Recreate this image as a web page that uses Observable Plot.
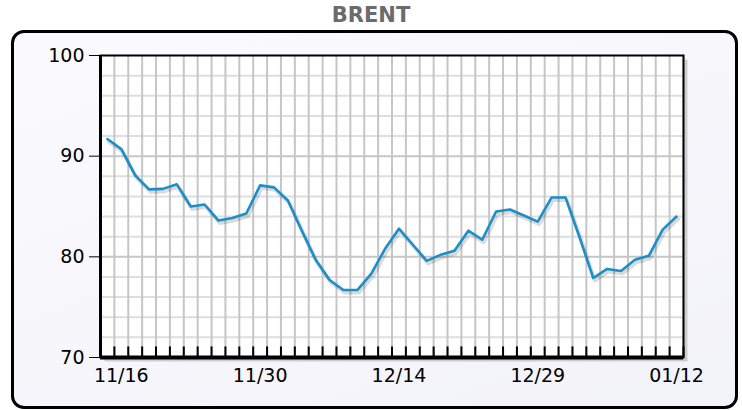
<!DOCTYPE html>
<html>
<head>
<meta charset="utf-8">
<script src="https://cdn.jsdelivr.net/npm/d3@7"></script>
<script src="https://cdn.jsdelivr.net/npm/@observablehq/plot@0.6"></script>
<style>
  html, body { margin: 0; padding: 0; background: #ffffff; }
  body { width: 742px; height: 410px; position: relative; overflow: hidden; }
  #title { position: absolute; left: 0; top: 3px; width: 742px; text-align: center;
    font-family: "DejaVu Sans", sans-serif; font-weight: bold; font-size: 21px; color: #6b6b6b; }
  #panel { position: absolute; left: 11px; top: 30px; width: 721px; height: 373px;
    border: 3px solid #000; border-radius: 13px;
    background: linear-gradient(160deg, #fbfbfe 0%, #f2f2f9 100%); }
  #chart { position: absolute; left: 0; top: 0; }
</style>
</head>
<body>
<div id="title">BRENT</div>
<div id="panel"></div>
<div id="chart"></div>
<script>
const dates = [
  "11/15","11/16","11/17","11/18","11/21","11/22","11/23","11/24","11/25","11/28","11/29","11/30",
  "12/01","12/02","12/05","12/06","12/07","12/08","12/09","12/12","12/13","12/14",
  "12/15","12/16","12/19","12/20","12/21","12/22","12/23","12/27","12/28","12/29",
  "12/30","01/02","01/03","01/04","01/05","01/06","01/09","01/10","01/11","01/12"
];
const values = [
  91.7, 90.7, 88.1, 86.7, 86.75, 87.2, 85.0, 85.2, 83.6, 83.85, 84.3, 87.1,
  86.9, 85.6, 82.6, 79.7, 77.7, 76.7, 76.7, 78.3, 80.8, 82.8,
  81.2, 79.6, 80.2, 80.6, 82.6, 81.7, 84.5, 84.7, 84.1, 83.5,
  85.9, 85.9, 82.0, 77.9, 78.8, 78.6, 79.7, 80.1, 82.7, 84.0
];
const yTicks = [70, 80, 90, 100];
const xTickLabels = ["11/16", "11/30", "12/14", "12/29", "01/12"];

const data = dates.map((d, i) => ({i, date: d, value: values[i]}));
const xTicks = xTickLabels.map(l => dates.indexOf(l));
const edges = d3.range(dates.length + 1).map(i => i - 0.5);
const yMinor = d3.range(yTicks[0], yTicks[yTicks.length - 1], 2).filter(v => v % 10 !== 0);
const yMajor = yTicks.slice(1, -1);

const chart = Plot.plot({
  width: 742,
  height: 410,
  marginLeft: 100,
  marginRight: 59,
  marginTop: 55,
  marginBottom: 53,
  style: {background: "transparent", fontFamily: "DejaVu Sans, sans-serif", fontSize: "19px", color: "#000"},
  x: {domain: [-0.5, dates.length - 0.5], ticks: xTicks, tickFormat: i => dates[i], tickSize: 0, tickPadding: 11, label: null},
  y: {domain: [70, 100], ticks: yTicks, tickSize: 11, tickPadding: 5, label: null},
  marks: [
    Plot.frame({fill: "#000", fillOpacity: 0.16, dx: 4, dy: 4}),
    Plot.frame({fill: "white"}),
    Plot.ruleY(yMinor, {stroke: "#dedede", strokeWidth: 2}),
    Plot.ruleY(yMajor, {stroke: "#c6c6c6", strokeWidth: 2}),
    Plot.ruleX(edges, {stroke: "#c6c6c6", strokeWidth: 2}),
    Plot.ruleX(edges, {y1: 70, y2: 71.05, stroke: "#000", strokeWidth: 2}),
    Plot.line(data, {x: "i", y: "value", stroke: "#000", strokeOpacity: 0.14, strokeWidth: 4, dx: 1.5, dy: 2.5}),
    Plot.line(data, {x: "i", y: "value", stroke: "#1b8fc7", strokeWidth: 2.6}),
    Plot.frame({stroke: "#000", strokeWidth: 2}),
    Plot.ruleY([70], {stroke: "#000", strokeWidth: 4}),
    Plot.ruleX([-0.5], {stroke: "#000", strokeWidth: 3})
  ]
});
document.getElementById("chart").appendChild(chart);
</script>
</body>
</html>
